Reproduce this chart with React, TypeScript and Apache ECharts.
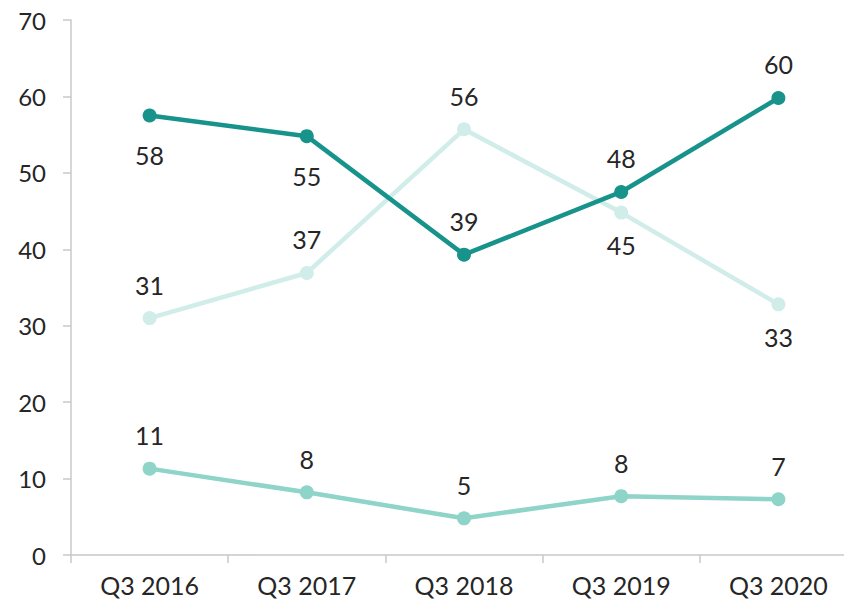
import React, { useEffect, useRef } from "react";
import * as echarts from "echarts";

const categories = ["Q3 2016", "Q3 2017", "Q3 2018", "Q3 2019", "Q3 2020"];
const darkSeries = [57.5, 54.8, 39.3, 47.5, 59.8];
const lightSeries = [31.0, 36.9, 55.7, 44.8, 32.8];
const midSeries = [11.3, 8.2, 4.8, 7.7, 7.3];
const yTicks = [0, 10, 20, 30, 40, 50, 60, 70];

const FONT = "Lato";
const TEXT = "#262626";

export default function App() {
  const ref = useRef<HTMLDivElement>(null);
  useEffect(() => {
    if (!ref.current) return;
    const chart = echarts.init(ref.current, null, { renderer: "svg" });
    const labelStyle = {
      show: true,
      fontFamily: FONT,
      fontSize: 25,
      color: TEXT,
      formatter: (p: any) => String(Math.round(p.value)),
    };
    const mk = (name: string, values: number[], color: string, below: number[], belowDist: number) => ({
      name,
      type: "line",
      data: values.map((v, i) => ({
        value: v,
        label: below.includes(i)
          ? { position: "bottom", distance: belowDist }
          : { position: "top", distance: 14 },
      })),
      symbol: "circle",
      symbolSize: 14,
      lineStyle: { color, width: 4.5 },
      itemStyle: { color },
      label: labelStyle,
      z: 2,
    });
    chart.setOption({
      animation: false,
      grid: { left: 71, right: 13, top: 20, bottom: 45, containLabel: false },
      xAxis: {
        type: "category",
        data: categories,
        boundaryGap: true,
        axisLine: { lineStyle: { color: "#c8c8c8", width: 1.5 } },
        axisTick: { show: true, length: 8, lineStyle: { color: "#c8c8c8", width: 1.5 } },
        axisLabel: { fontFamily: FONT, fontSize: 25, lineHeight: 24, color: TEXT, margin: 18 },
        splitLine: { show: false },
      },
      yAxis: {
        type: "value",
        min: yTicks[0],
        max: yTicks[yTicks.length - 1],
        interval: 10,
        axisLine: { show: true, lineStyle: { color: "#c8c8c8", width: 1.5 } },
        axisTick: { show: true, length: 8, lineStyle: { color: "#c8c8c8", width: 1.5 } },
        axisLabel: { fontFamily: FONT, fontSize: 24, color: TEXT, margin: 25 },
        splitLine: { show: false },
      },
      series: [
        mk("light", lightSeries, "#d1ede9", [3, 4], 13),
        mk("mid", midSeries, "#8ed4c8", [], 13),
        mk("dark", darkSeries, "#17938c", [0, 1], 20),
      ],
    });
    return () => chart.dispose();
  }, []);
  return (
    <div style={{ position: "fixed", left: 0, top: 0, width: 844, height: 600, overflow: "hidden", background: "#fff" }}>
      <div ref={ref} style={{ position: "absolute", left: 0, top: 0, width: 870, height: 600 }} />
    </div>
  );
}
